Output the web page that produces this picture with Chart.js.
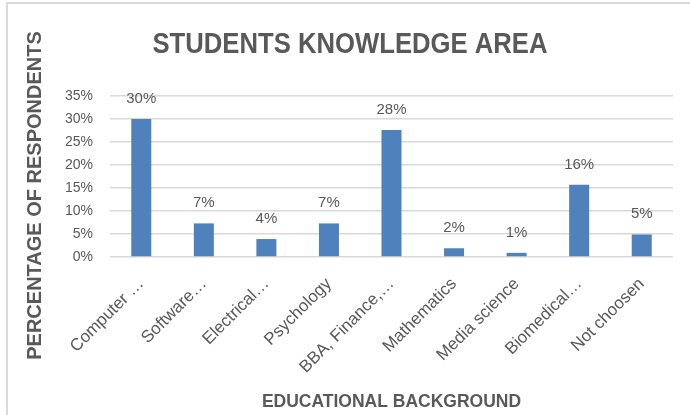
<!DOCTYPE html>
<html>
<head>
<meta charset="utf-8">
<title>Students Knowledge Area</title>
<script src="https://cdn.jsdelivr.net/npm/chart.js@4.4.1/dist/chart.umd.min.js"></script>
<style>
    body { margin: 0; background: #fff; }
    #chartBox { width: 690px; height: 415px; }
</style>
</head>
<body>
<div id="chartBox"><canvas id="knowledgeChart"></canvas></div>
<script>
// categories (long names are cut short on the axis)
var categories = ['Computer …', 'Software…', 'Electrical…', 'Psychology', 'BBA, Finance,…',
    'Mathematics', 'Media science', 'Biomedical…', 'Not choosen'];
// share of respondents
var respondents = [0.300, 0.073, 0.039, 0.073, 0.276, 0.019, 0.009, 0.157, 0.049];
// y axis ticks
var yTicks = [0, 0.05, 0.10, 0.15, 0.20, 0.25, 0.30, 0.35];

var textGray = '#595959';
var gridGray = '#d9d9d9';

function toPercent(v) {
    return Math.round(v * 100) + '%';
}

// thin frame on the left and top edge
var framePlugin = {
    id: 'frame',
    beforeDraw: function (chart) {
        var ctx = chart.ctx;
        ctx.save();
        ctx.fillStyle = '#fff';
        ctx.fillRect(0, 0, chart.width, chart.height);
        ctx.strokeStyle = gridGray;
        ctx.lineWidth = 2;
        ctx.beginPath();
        ctx.moveTo(7, chart.height);
        ctx.lineTo(7, 3);
        ctx.lineTo(chart.width, 3);
        ctx.stroke();
        ctx.restore();
    }
};

// value labels above each bar
var valueLabels = {
    id: 'valueLabels',
    afterDatasetsDraw: function (chart) {
        var ctx = chart.ctx;
        var meta = chart.getDatasetMeta(0);
        ctx.save();
        ctx.font = '15px "Liberation Sans", Arial, sans-serif';
        ctx.fillStyle = textGray;
        ctx.textAlign = 'center';
        ctx.textBaseline = 'alphabetic';
        meta.data.forEach(function (bar, i) {
            ctx.fillText(toPercent(chart.data.datasets[0].data[i]), bar.x, bar.y - 16);
        });
        ctx.restore();
    }
};

// chart title, drawn a bit condensed
var condensedTitle = {
    id: 'condensedTitle',
    afterDraw: function (chart) {
        var ctx = chart.ctx;
        var text = 'STUDENTS KNOWLEDGE AREA';
        ctx.save();
        ctx.font = 'bold 29px "Liberation Sans", Arial, sans-serif';
        ctx.fillStyle = textGray;
        ctx.textAlign = 'center';
        ctx.textBaseline = 'middle';
        var squeeze = 395 / ctx.measureText(text).width;
        ctx.translate(350, 45);
        ctx.scale(squeeze, 1);
        ctx.fillText(text, 0, 0);
        ctx.restore();
    }
};

// vertical axis title
var yTitle = {
    id: 'yTitle',
    afterDraw: function (chart) {
        var ctx = chart.ctx;
        var midY = (chart.chartArea.top + chart.chartArea.bottom) / 2 + 19;
        ctx.save();
        ctx.translate(35, midY);
        ctx.rotate(-Math.PI / 2);
        ctx.font = 'bold 20px "Liberation Sans", Arial, sans-serif';
        ctx.fillStyle = textGray;
        ctx.textAlign = 'center';
        ctx.textBaseline = 'middle';
        ctx.fillText('PERCENTAGE OF RESPONDENTS', 0, 0);
        ctx.restore();
    }
};

var chartElement = document.getElementById('knowledgeChart').getContext('2d');
var knowledgeChart = new Chart(chartElement, {
    type: 'bar',
    data: {
        labels: categories,
        datasets: [{
            label: 'Respondents',
            data: respondents,
            backgroundColor: '#4f81bd',
            categoryPercentage: 1,
            barPercentage: 0.32
        }]
    },
    options: {
        responsive: true,
        maintainAspectRatio: false,
        animation: false,
        layout: {
            padding: { left: 8, right: 17, top: 96, bottom: 0 }
        },
        plugins: {
            legend: { display: false },
            tooltip: { enabled: false },
            title: { display: false }
        },
        scales: {
            y: {
                min: 0,
                max: 0.35,
                afterBuildTicks: function (scale) {
                    scale.ticks = yTicks.map(function (v) { return { value: v }; });
                },
                afterFit: function (scale) {
                    scale.width = 102;
                },
                ticks: {
                    callback: function (v) { return toPercent(v); },
                    color: textGray,
                    font: { family: '"Liberation Sans", Arial, sans-serif', size: 14 },
                    padding: 17
                },
                grid: {
                    color: gridGray,
                    lineWidth: 1.5,
                    drawTicks: false
                },
                border: { display: false }
            },
            x: {
                afterFit: function (scale) {
                    scale.height = 158;
                },
                ticks: {
                    minRotation: 45,
                    maxRotation: 45,
                    autoSkip: false,
                    color: textGray,
                    font: { family: '"Liberation Sans", Arial, sans-serif', size: 17 },
                    padding: 9
                },
                grid: { display: false },
                border: { display: false },
                title: {
                    display: true,
                    text: 'EDUCATIONAL BACKGROUND',
                    color: textGray,
                    font: { family: '"Liberation Sans", Arial, sans-serif', size: 17.5, weight: 'bold', lineHeight: 1 },
                    padding: { top: 0, bottom: 4.5 }
                }
            }
        }
    },
    plugins: [framePlugin, valueLabels, condensedTitle, yTitle]
});
</script>
</body>
</html>
